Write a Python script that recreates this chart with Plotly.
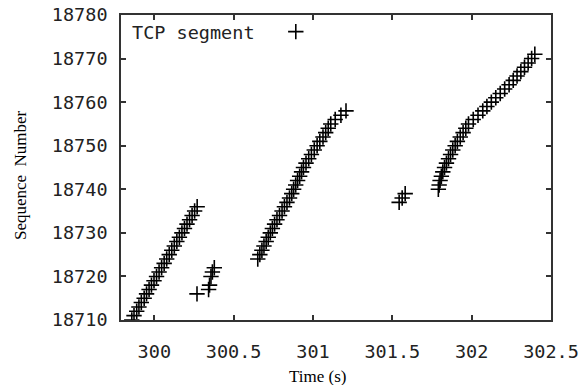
import plotly.graph_objects as go

# Cluster 1
t1 = [299.858, 299.872, 299.889, 299.903, 299.918, 299.936, 299.951, 299.967, 299.982, 299.998,
      300.014, 300.030, 300.046, 300.062, 300.078, 300.094, 300.110, 300.126, 300.142, 300.158,
      300.174, 300.190, 300.206, 300.222, 300.238, 300.254, 300.270]
s1 = [18710, 18711, 18712, 18713, 18714, 18715, 18716, 18717, 18718, 18719,
      18720, 18721, 18722, 18723, 18724, 18725, 18726, 18727, 18728, 18729,
      18730, 18731, 18732, 18733, 18734, 18735, 18736]
# retransmissions after cluster 1
t2 = [300.269, 300.342, 300.348, 300.357, 300.366, 300.378]
s2 = [18716, 18717, 18718, 18720, 18721, 18722]
# Cluster 2
t3 = [300.652, 300.665, 300.678, 300.691, 300.705, 300.718, 300.731, 300.744, 300.758, 300.773,
      300.789, 300.805, 300.820, 300.836, 300.852, 300.866, 300.878, 300.891, 300.903, 300.916,
      300.928, 300.940, 300.956, 300.973, 300.990, 301.008, 301.026, 301.043, 301.063, 301.080,
      301.096, 301.112, 301.140, 301.176, 301.208]
s3 = [18724, 18725, 18726, 18727, 18728, 18729, 18730, 18731, 18732, 18733,
      18734, 18735, 18736, 18737, 18738, 18739, 18740, 18741, 18742, 18743,
      18744, 18745, 18746, 18747, 18748, 18749, 18750, 18751, 18752, 18753,
      18754, 18755, 18756, 18757, 18758]
# isolated group
t4 = [301.543, 301.562, 301.581]
s4 = [18737, 18738, 18739]
# Cluster 4
t5 = [301.790, 301.795, 301.801, 301.809, 301.818, 301.829, 301.841, 301.854, 301.867, 301.881,
      301.896, 301.910, 301.928, 301.946, 301.963, 301.980, 302.010, 302.040, 302.070, 302.096,
      302.124, 302.152, 302.180, 302.208, 302.236, 302.262, 302.286, 302.310, 302.333, 302.356,
      302.378, 302.398]
s5 = [18740, 18741, 18742, 18743, 18744, 18745, 18746, 18747, 18748, 18749,
      18750, 18751, 18752, 18753, 18754, 18755, 18756, 18757, 18758, 18759,
      18760, 18761, 18762, 18763, 18764, 18765, 18766, 18767, 18768, 18769,
      18770, 18771]

times = t1 + t2 + t3 + t4 + t5
seqs = s1 + s2 + s3 + s4 + s5

x_ticks = [300, 300.5, 301, 301.5, 302, 302.5]
x_tick_text = ["300", "300.5", "301", "301.5", "302", "302.5"]
y_ticks = [18710, 18720, 18730, 18740, 18750, 18760, 18770, 18780]
y_tick_text = ["18710", "18720", "18730", "18740", "18750", "18760", "18770", "18780"]

mono = "DejaVu Sans Mono"
serif = "Liberation Serif"
axcol = "#333333"
fs = 18.5

fig = go.Figure()
fig.add_trace(go.Scatter(
    x=times, y=seqs, mode="markers", name="",
    marker=dict(symbol="cross-thin", size=11, color="black",
                line=dict(color="black", width=1.6)),
    showlegend=True,
))

fig.update_layout(
    width=582, height=385,
    margin=dict(l=121, r=31, t=15, b=65, autoexpand=False),
    paper_bgcolor="white", plot_bgcolor="white",
    font=dict(family=mono, size=fs, color=axcol),
    legend=dict(x=0.36, y=0.944, xanchor="left", yanchor="middle",
                bgcolor="rgba(0,0,0,0)", font=dict(family=mono, size=17)),
    annotations=[
        dict(text="TCP segment", x=0.021, y=0.944, xref="paper", yref="paper",
             xanchor="left", yanchor="middle", showarrow=False,
             font=dict(family=mono, size=fs, color="#222222")),
        dict(text="Time (s)", x=0.457, y=-0.184, xref="paper", yref="paper",
             xanchor="center", yanchor="middle", showarrow=False,
             font=dict(family=serif, size=17, color="black")),
        dict(text="Sequence\u00a0\u00a0Number", x=-0.235, y=0.475, xref="paper", yref="paper",
             xanchor="center", yanchor="middle", showarrow=False, textangle=-90,
             font=dict(family=serif, size=17, color="black")),
    ],
)
fig.update_xaxes(
    range=[299.79, 302.5], tickvals=x_ticks, ticktext=x_tick_text,
    ticks="inside", ticklen=5, tickwidth=1.5, tickcolor=axcol,
    showline=True, linecolor=axcol, linewidth=1.5, mirror="allticks",
    showgrid=False, zeroline=False, ticklabelstandoff=14,
    tickfont=dict(family=mono, size=fs, color="#222222"),
)
fig.update_yaxes(
    range=[18710, 18780], tickvals=y_ticks, ticktext=y_tick_text,
    ticks="inside", ticklen=5, tickwidth=1.5, tickcolor=axcol,
    showline=True, linecolor=axcol, linewidth=1.5, mirror="allticks",
    showgrid=False, zeroline=False, ticklabelstandoff=8,
    tickfont=dict(family=mono, size=fs, color="#222222"),
)

fig.write_html("out.html")
